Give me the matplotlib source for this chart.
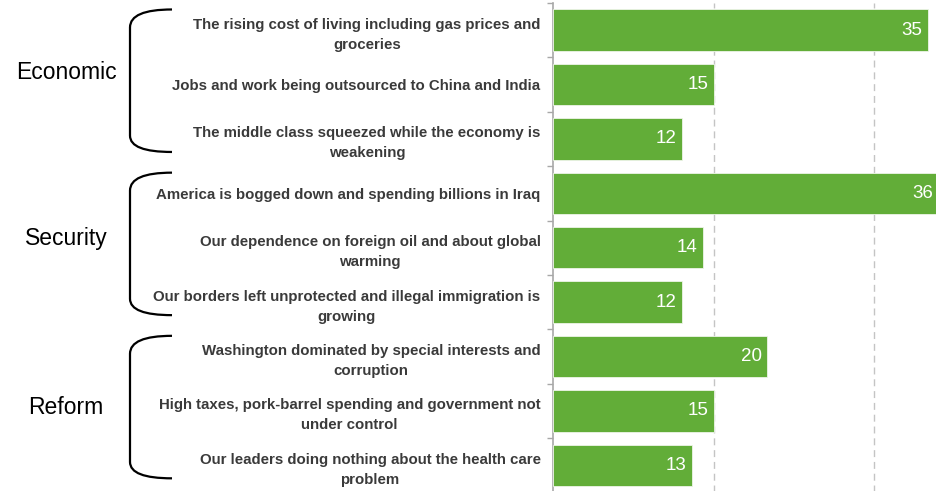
import matplotlib.pyplot as plt
from matplotlib.path import Path
from matplotlib.patches import PathPatch
import matplotlib.transforms as transforms

plt.rcParams['font.family'] = ['Liberation Sans', 'DejaVu Sans']

# concerns, grouped into three themes
labels = [
    "The rising cost of living including gas prices and\ngroceries",
    "Jobs and work being outsourced to China and India",
    "The middle class squeezed while the economy is\nweakening",
    "America is bogged down and spending billions in Iraq",
    "Our dependence on foreign oil and about global\nwarming",
    "Our borders left unprotected and illegal immigration is\ngrowing",
    "Washington dominated by special interests and\ncorruption",
    "High taxes, pork-barrel spending and government not\nunder control",
    "Our leaders doing nothing about the health care\nproblem",
]
values = [35, 15, 12, 36, 14, 12, 20, 15, 13]
groups = ["Economic", "Security", "Reform"]
group_rows = [(0, 2), (3, 5), (6, 8)]
group_label_rows = [0.77, 3.83, 6.94]

green = '#62ad38'

fig = plt.figure(figsize=(9.36, 4.91), dpi=100)
ax = fig.add_axes([553 / 936, -0.003, 1 - 553 / 936, 0.997])

ypos = list(range(len(values)))
ax.barh(ypos, values, height=0.76, color=green, edgecolor='#eef5e8',
        linewidth=0.6, zorder=3)

ax.set_xlim(0, 35.75)
ax.set_ylim(8.5, -0.5)

# dashed gridlines every 15
for x in [15, 30]:
    ax.axvline(x, color='#c4c4c4', lw=1.0, dashes=(5, 3.5), zorder=1)

for s in ['top', 'right', 'bottom']:
    ax.spines[s].set_visible(False)
ax.spines['left'].set_color('#a8a8a8')
ax.spines['left'].set_linewidth(1.2)
ax.set_xticks([])

ax.set_yticks(ypos)
ax.set_yticklabels(labels, fontsize=10.8, fontweight='bold', color='#3a3a3a')
ax.tick_params(axis='y', which='major', length=0, pad=9)
for lab in ax.get_yticklabels():
    lab.set_multialignment('center')
    lab.set_linespacing(1.55)
ax.set_yticks([i - 0.5 for i in range(len(values) + 1)], minor=True)
ax.tick_params(axis='y', which='minor', length=4, width=1, color='#a8a8a8')

# value labels inside bar ends
for y, v in zip(ypos, values):
    ax.annotate(str(v), (v, y), xytext=(-4, 0), textcoords='offset points',
                ha='right', va='center', color='white', fontsize=13.5,
                zorder=4, annotation_clip=False)

# curly brackets and group names on the left
trans = transforms.blended_transform_factory(fig.transFigure, ax.transData)
x_end, x_mid = 172 / 936, 130 / 936
for name, (r0, r1), yl in zip(groups, group_rows, group_label_rows):
    top, bot = r0 - 0.38, r1 + 0.24
    verts = [(x_end, top), (x_mid, top), (x_mid, top + 0.33),
             (x_mid, bot - 0.3), (x_mid, bot), (x_end, bot)]
    codes = [Path.MOVETO, Path.CURVE3, Path.CURVE3,
             Path.LINETO, Path.CURVE3, Path.CURVE3]
    ax.add_patch(PathPatch(Path(verts, codes), transform=trans, fill=False,
                           lw=1.6, color='black', clip_on=False))
    fig.text(66 / 936, yl, name, transform=trans, fontsize=16.5,
             ha='center', va='center', color='black')

fig.savefig('out.png', dpi=100)
